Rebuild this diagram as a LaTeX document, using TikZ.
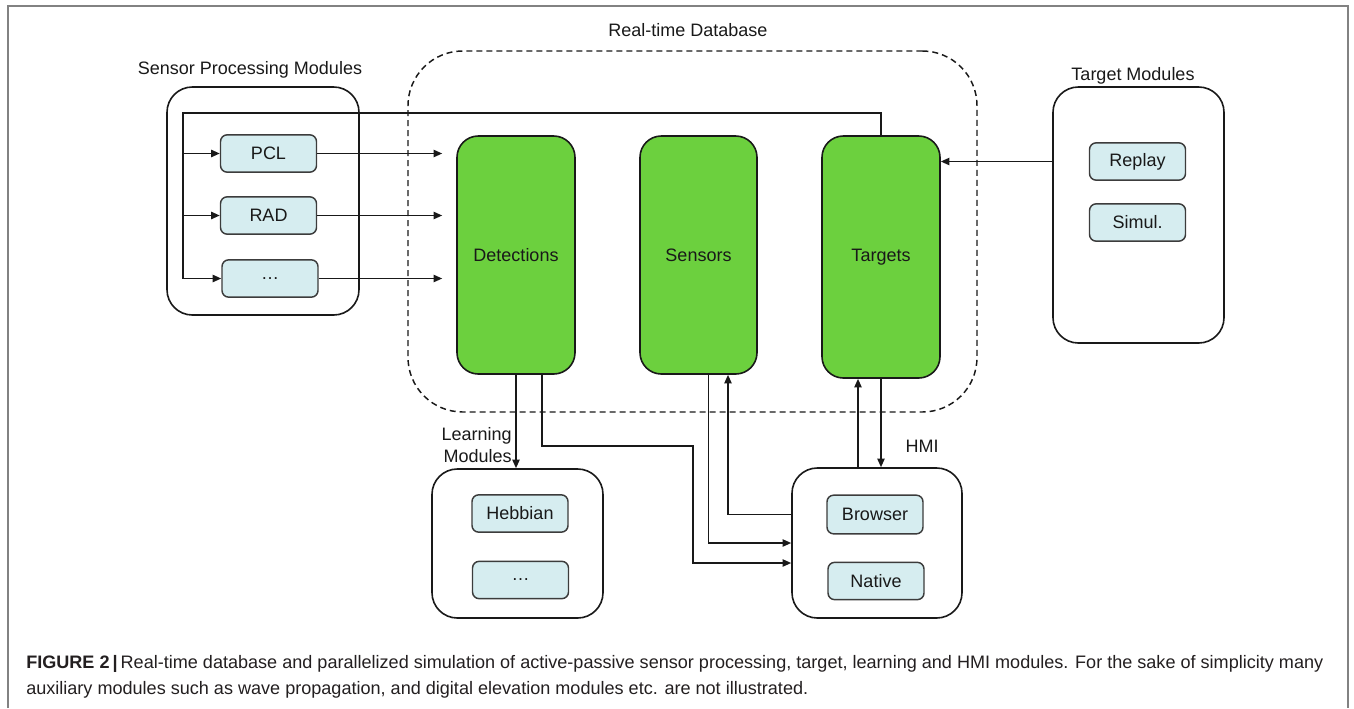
\documentclass[tikz,border=0pt]{standalone}
\usepackage{fontspec}
\setmainfont{Liberation Sans}
\usetikzlibrary{arrows.meta,calc}
\definecolor{boxgreen}{RGB}{108,208,62}
\definecolor{boxcyan}{RGB}{214,237,240}
\definecolor{framegray}{RGB}{130,130,130}
\definecolor{inkc}{RGB}{25,25,25}
\definecolor{capink}{RGB}{35,31,32}
\begin{document}
\begin{tikzpicture}[x=0.75pt,y=-0.75pt,
  font=\fontsize{13.5}{16.5}\selectfont, text=inkc,
  outer/.style={draw=inkc, line width=1.2pt, rounded corners=19pt, inner sep=0pt},
  modbox/.style={draw=inkc!85, fill=boxcyan, line width=1.1pt, rounded corners=5pt,
    minimum width=72pt, minimum height=28pt, inner sep=0pt},
  dbbox/.style={draw=inkc, fill=boxgreen, line width=1.2pt, rounded corners=16pt,
    minimum width=88.5pt, minimum height=178.5pt, inner sep=0pt},
  dbframe/.style={draw=inkc, line width=1.1pt, dash pattern=on 4.5pt off 3pt,
    rounded corners=41pt, inner sep=0pt},
  conn/.style={draw=inkc, line width=1.2pt},
  arr/.style={conn, -{Triangle[length=6.5pt,width=5.5pt]}},
  lbl/.style={inner sep=0pt},
  captext/.style={anchor=base west, inner sep=0pt, text=capink, font=\fontsize{13.55}{20}\selectfont}
]
\useasboundingbox (0,0) rectangle (1354,708);

% page frame
\draw[framegray, line width=0.9pt] (8,708) -- (8,6) -- (1348,6) -- (1348,708);

% real-time database
\node[dbframe, minimum width=426.75pt, minimum height=270.75pt] (rtdb) at (692.5,231.5) {};
\node[lbl] (rtdblbl) at (688,30) {Real-time Database};
\node[dbbox] (det) at (516,255) {Detections};
\node[dbbox, minimum width=87.75pt] (sen) at (698.5,255) {Sensors};
\node[dbbox, minimum height=181.5pt] (tgt) at (881,257) {Targets};

% sensor processing modules
\node[outer, minimum width=144pt, minimum height=171pt] (spm) at (263,201) {};
\node[lbl] (spmlbl) at (250,70) {Sensor Processing Modules};
\node[modbox] (pcl) at (268.5,153.5) {PCL};
\node[modbox] (rad) at (268.5,215.5) {RAD};
\node[modbox] (sdots) at (270,278.5) {…};

% target modules
\node[outer, minimum width=128.25pt, minimum height=192pt] (tm) at (1138.5,215) {};
\node[lbl] (tmlbl) at (1133,76) {Target Modules};
\node[modbox] (replay) at (1137.5,161.5) {Replay};
\node[modbox] (simul) at (1137.5,222.5) {Simul.};

% learning modules
\node[outer, minimum width=128.25pt, minimum height=111.75pt] (lm) at (517.5,543.5) {};
\node[lbl, align=right, anchor=east] (lmlbl) at (512,445) {Learning\\Modules};
\node[modbox] (hebb) at (520,513.5) {Hebbian};
\node[modbox] (ldots) at (520.5,580) {…};

% HMI
\node[outer, minimum width=127.5pt, minimum height=112.5pt] (hmi) at (877,543) {};
\node[lbl] (hmilbl) at (922,446) {HMI};
\node[modbox, minimum height=29pt] (browser) at (875,514.5) {Browser};
\node[modbox] (native) at (876,581) {Native};

% feedback from targets to sensor processing
\coordinate (fb) at (183,113);
\draw[conn] (tgt.north) |- (fb) -- (fb |- sdots.west);
\draw[arr] (fb |- pcl.west) -- (pcl.west);
\draw[arr] (fb |- rad.west) -- (rad.west);
\draw[arr] (fb |- sdots.west) -- (sdots.west);

% sensor modules to detections
\draw[arr, shorten >=10.5pt] (pcl.east) -- (pcl.east -| det.west);
\draw[arr, shorten >=10.5pt] (rad.east) -- (rad.east -| det.west);
\draw[arr, shorten >=10.5pt] (sdots.east) -- (sdots.east -| det.west);

% target modules to targets
\draw[arr] (replay -| tm.west) -- (replay -| tgt.east);

% detections to learning
\draw[arr] (det.south) -- (det.south |- lm.north);

% detections to HMI
\coordinate (ja) at (693,446);
\coordinate (jb) at (693,563);
\draw[arr] ([shift={(26,0)}]det.south) |- (ja) -- (jb) -- (jb -| hmi.west);

% sensors <-> HMI
\draw[arr] ([shift={(10,0)}]sen.south) |- (hmi.west);
\draw[arr] (browser -| hmi.west) -| ([shift={(29.5,0)}]sen.south);

% targets <-> HMI
\draw[arr] ([shift={(-19,0)}]hmi.north) -- ([shift={(-19,0)}]hmi.north |- tgt.south);
\draw[arr] (tgt.south) -- (tgt.south |- hmi.north);

% caption
\node[captext] (cap1) at (26,668) {\textbf{FIGURE 2\,|}\,Real-time database and parallelized simulation of active-passive sensor processing, target, learning and HMI modules. For the sake of simplicity many};
\node[captext] (cap2) at (26,694) {auxiliary modules such as wave propagation, and digital elevation modules etc. are not illustrated.};
\end{tikzpicture}
\end{document}
